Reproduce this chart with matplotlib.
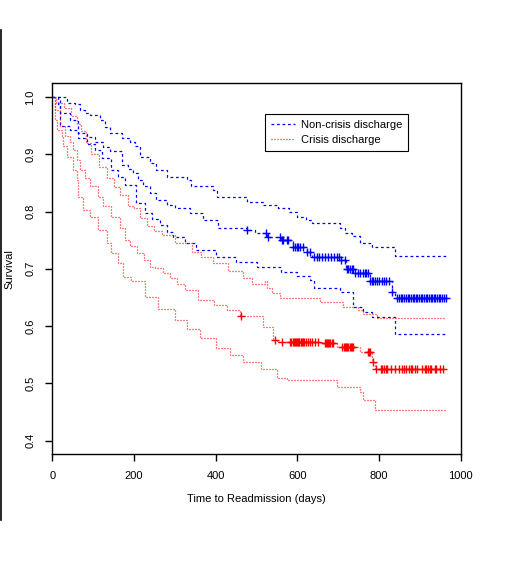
import numpy as np
import matplotlib
matplotlib.use("Agg")
import matplotlib.pyplot as plt
from matplotlib.lines import Line2D

plt.rcParams['font.family'] = ['Liberation Sans', 'DejaVu Sans']

# Non-crisis discharge: KM estimate and confidence limits (step change points)
nc_t = [0, 15, 19, 43, 64, 85, 105, 125, 141, 170, 185, 198, 210, 223, 240, 255, 280, 300,
        337, 370, 406, 476, 496, 525, 560, 589, 623, 635, 704, 720, 741, 778, 831, 840, 963]
nc_s = [1.0, 0.987, 0.972, 0.960, 0.937, 0.930, 0.922, 0.913, 0.905, 0.882, 0.875, 0.867,
        0.855, 0.844, 0.832, 0.820, 0.812, 0.806, 0.797, 0.785, 0.771, 0.768, 0.762, 0.756,
        0.750, 0.739, 0.730, 0.721, 0.716, 0.700, 0.692, 0.678, 0.660, 0.649, 0.649]
nc_up_t = [0, 35, 55, 68, 80, 92, 117, 130, 141, 170, 190, 202, 215, 239, 255, 280, 329, 340,
           394, 404, 476, 516, 553, 580, 598, 620, 635, 705, 717, 733, 753, 782, 840, 963]
nc_up_s = [1.0, 0.990, 0.987, 0.978, 0.972, 0.969, 0.960, 0.948, 0.937, 0.928, 0.922, 0.914,
           0.895, 0.885, 0.873, 0.861, 0.855, 0.844, 0.838, 0.826, 0.817, 0.812, 0.806,
           0.800, 0.791, 0.785, 0.780, 0.772, 0.762, 0.757, 0.745, 0.738, 0.722, 0.722]
nc_lo_t = [0, 19, 43, 64, 85, 105, 121, 145, 160, 178, 206, 227, 245, 264, 280, 296, 325,
           353, 402, 450, 500, 560, 600, 631, 640, 704, 736, 760, 782, 839, 963]
nc_lo_s = [1.0, 0.949, 0.943, 0.928, 0.918, 0.908, 0.893, 0.873, 0.860, 0.847, 0.815,
           0.797, 0.787, 0.777, 0.765, 0.756, 0.745, 0.733, 0.721, 0.712, 0.704, 0.695,
           0.688, 0.681, 0.666, 0.660, 0.634, 0.625, 0.616, 0.587, 0.587]
nc_cens = [476, 524, 527, 557, 562, 566, 574, 578, 590, 594, 598, 602, 606, 615, 623, 631,
           640, 647, 654, 661, 668, 675, 682, 689, 698, 702, 708, 717, 721, 725, 729, 733,
           737, 741, 749, 753, 761, 765, 769, 774, 778, 782, 786, 790, 795, 800, 806, 812,
           818, 824, 831, 845, 849, 853, 857, 862, 866, 870, 874, 878, 882, 886, 890, 894,
           898, 902, 906, 910, 914, 918, 922, 926, 930, 934, 938, 942, 946, 950, 954, 958, 963]

# Crisis discharge
cr_t = [0, 7, 19, 31, 43, 51, 60, 68, 80, 92, 113, 125, 145, 166, 178, 190, 207, 225, 239,
        251, 270, 288, 305, 325, 357, 395, 427, 460, 516, 541, 549, 655, 696, 753, 782, 790, 963]
cr_s = [1.0, 0.978, 0.949, 0.931, 0.922, 0.908, 0.890, 0.873, 0.858, 0.844, 0.826, 0.809,
        0.791, 0.771, 0.751, 0.740, 0.727, 0.715, 0.704, 0.701, 0.692, 0.684, 0.673, 0.663,
        0.646, 0.637, 0.628, 0.617, 0.599, 0.576, 0.573, 0.570, 0.564, 0.555, 0.538,
        0.526, 0.526]
cr_up_t = [0, 10, 30, 47, 60, 70, 82, 95, 115, 133, 150, 166, 186, 199, 215, 231, 250, 268,
           300, 341, 365, 394, 430, 468, 490, 520, 525, 537, 557, 655, 712, 749, 761, 794, 963]
cr_up_s = [1.0, 0.990, 0.980, 0.966, 0.953, 0.940, 0.920, 0.900, 0.878, 0.858, 0.843, 0.829,
           0.809, 0.806, 0.788, 0.774, 0.766, 0.759, 0.745, 0.730, 0.720, 0.710, 0.697,
           0.684, 0.674, 0.678, 0.666, 0.657, 0.649, 0.643, 0.634, 0.628, 0.622, 0.614, 0.614]
cr_lo_t = [0, 7, 11, 23, 27, 35, 51, 60, 64, 76, 92, 113, 133, 145, 162, 174, 194, 227,
           260, 300, 330, 362, 402, 435, 468, 510, 549, 574, 696, 753, 761, 790, 963]
cr_lo_s = [1.0, 0.960, 0.943, 0.931, 0.914, 0.896, 0.873, 0.855, 0.826, 0.803, 0.791,
           0.768, 0.745, 0.727, 0.710, 0.686, 0.678, 0.651, 0.630, 0.610, 0.595, 0.580,
           0.561, 0.550, 0.538, 0.525, 0.509, 0.506, 0.494, 0.485, 0.471, 0.453, 0.453]
cr_cens = [463, 545, 562, 582, 585, 589, 592, 594, 596, 599, 601, 603, 605, 608, 611, 614,
           617, 621, 625, 630, 636, 642, 650, 667, 671, 673, 675, 678, 681, 684, 686, 709,
           713, 716, 718, 722, 725, 728, 731, 734, 737, 773, 776, 778, 786, 792, 804, 807,
           812, 816, 820, 828, 840, 848, 857, 861, 865, 873, 877, 881, 889, 893, 904, 912,
           916, 920, 924, 928, 936, 940, 948, 957]


def surv_at(t, s, x):
    idx = np.searchsorted(np.array(t), np.array(x), side='right') - 1
    return np.array(s)[idx]


fig = plt.figure(figsize=(5.12, 5.66), dpi=100)
ax = fig.add_axes([0.102, 0.197, 0.798, 0.656])

blue = '#0000ff'
red = '#ff0000'
dash = (0, (2.2, 2.2))
dot = (0, (0.8, 1.6))
lw = 0.9
ax.step(nc_t, nc_s, where='post', color=blue, ls=dash, lw=lw)
ax.step(nc_up_t, nc_up_s, where='post', color=blue, ls=dash, lw=lw)
ax.step(nc_lo_t, nc_lo_s, where='post', color=blue, ls=dash, lw=lw)
ax.step(cr_t, cr_s, where='post', color=red, ls=dot, lw=lw)
ax.step(cr_up_t, cr_up_s, where='post', color=red, ls=dot, lw=lw)
ax.step(cr_lo_t, cr_lo_s, where='post', color=red, ls=dot, lw=lw)

ax.plot(nc_cens, surv_at(nc_t, nc_s, nc_cens), ls='none', marker='+',
        color=blue, ms=6, mew=1)
ax.plot(cr_cens, surv_at(cr_t, cr_s, cr_cens), ls='none', marker='+',
        color=red, ms=6, mew=1)

ax.set_xlim(0, 1000)
ax.set_ylim(0.376, 1.024)
ax.set_xticks([0, 200, 400, 600, 800, 1000])
ax.set_yticks([0.4, 0.5, 0.6, 0.7, 0.8, 0.9, 1.0])
ax.set_yticklabels(['0.4', '0.5', '0.6', '0.7', '0.8', '0.9', '1.0'],
                   rotation=90, va='center')
ax.tick_params(labelsize=8, length=5, width=1, pad=7)
for sp in ax.spines.values():
    sp.set_linewidth(1)
ax.set_xlabel('Time to Readmission (days)', fontsize=8, labelpad=9)
ax.set_ylabel('Survival', fontsize=8, labelpad=8)

handles = [Line2D([], [], color=blue, ls=dash, lw=lw),
           Line2D([], [], color=red, ls=dot, lw=lw)]
leg = ax.legend(handles, ['Non-crisis discharge', 'Crisis discharge'],
                loc='upper left', bbox_to_anchor=(0.52, 0.917), fontsize=8,
                frameon=True, fancybox=False, edgecolor='black', framealpha=1,
                handlelength=2.2, handletextpad=0.5, borderpad=0.55,
                labelspacing=0.4, borderaxespad=0)
leg.get_frame().set_linewidth(0.8)

# stray border line at the left edge of the image
fig.add_artist(Line2D([0.002, 0.002], [1 - 30 / 566, 1 - 520 / 566],
                      color='black', lw=1.2, transform=fig.transFigure))

fig.savefig('out.png', dpi=100)
